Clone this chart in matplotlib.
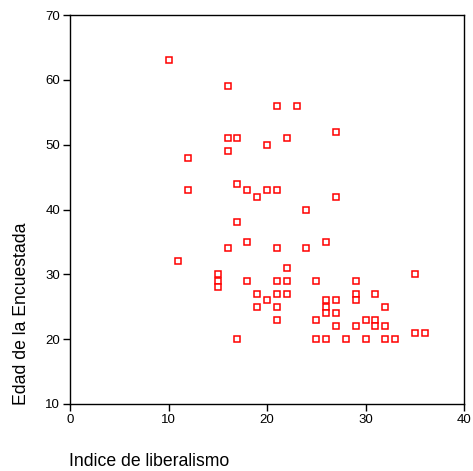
import matplotlib
matplotlib.use("Agg")
import matplotlib.pyplot as plt

plt.rcParams['font.family'] = ['Liberation Sans', 'DejaVu Sans']

liberalismo = [10, 16, 21, 23, 16, 17, 20, 22, 27,
               16, 12, 17, 12, 18, 20, 21, 19, 27, 24, 17,
               16, 18, 21, 24, 26, 11, 22,
               15, 15, 15, 18, 21, 22, 25, 29, 35,
               19, 21, 22, 29, 31,
               20, 26, 27, 29,
               19, 21, 26, 32,
               26, 27,
               21, 25, 30, 31,
               27, 29, 31, 32,
               35, 36,
               17, 25, 26, 28, 30, 32, 33]
edad = [63, 59, 56, 56, 51, 51, 50, 51, 52,
        49, 48, 44, 43, 43, 43, 43, 42, 42, 40, 38,
        34, 35, 34, 34, 35, 32, 31,
        30, 29, 28, 29, 29, 29, 29, 29, 30,
        27, 27, 27, 27, 27,
        26, 26, 26, 26,
        25, 25, 25, 25,
        24, 24,
        23, 23, 23, 23,
        22, 22, 22, 22,
        21, 21,
        20, 20, 20, 20, 20, 20, 20]

x_ticks = [0, 10, 20, 30, 40]
y_ticks = [10, 20, 30, 40, 50, 60, 70]

W, H = 473, 471
fig = plt.figure(figsize=(W / 100, H / 100), dpi=100)
ax = fig.add_axes([70 / W, (H - 404) / H, (464 - 70) / W, (404 - 15) / H])

ax.plot(liberalismo, edad, linestyle='none', marker='s', markersize=5,
        markerfacecolor='white', markeredgecolor='#ff0000', markeredgewidth=1.1)

ax.set_xlim(0, 40)
ax.set_ylim(10, 70)
ax.set_xticks(x_ticks)
ax.set_yticks(y_ticks)
ax.tick_params(axis='both', direction='out', length=5, width=1, labelsize=9.5,
               colors='black', pad=2)
for s in ax.spines.values():
    s.set_linewidth(1)
    s.set_color('black')

fig.text(69 / W, 1 - 462 / H, 'Indice de liberalismo', fontsize=12.7,
         ha='left', va='center')
fig.text(21 / W, 1 - 405 / H, 'Edad de la Encuestada', fontsize=12.7,
         rotation=90, ha='center', va='bottom')

fig.savefig('out.png', dpi=100)
